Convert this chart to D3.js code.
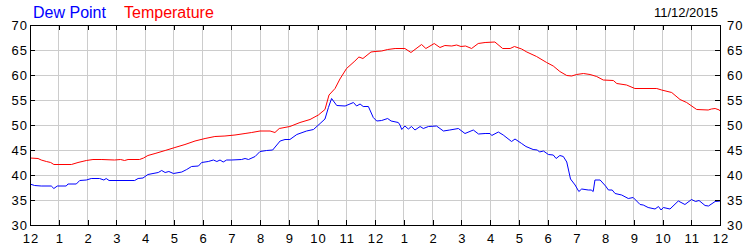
<!DOCTYPE html>
<html>
<head>
<meta charset="utf-8">
<script src="https://cdn.jsdelivr.net/npm/d3@7"></script>
<style>
    body { margin: 0; background: #fff; }
    svg { display: block; font-family: "Liberation Sans", Arial, sans-serif; }
</style>
</head>
<body>
<svg id="chart" width="750" height="250"></svg>
<script>
// hour of day (0 = midnight) and reading in degrees F
const temperature = [
    [0, 43.4], [0.28, 43.3], [0.39, 43.0], [0.57, 42.7], [0.72, 42.5], [0.83, 42.1], [1.44, 42.1],
    [1.67, 42.5], [1.96, 42.9], [2.19, 43.1], [2.5, 43.1], [2.94, 43.0], [3.15, 43.1], [3.29, 42.9],
    [3.41, 43.1], [3.81, 43.1], [3.95, 43.4], [4.1, 43.9], [4.35, 44.3], [4.7, 44.9], [5.04, 45.5],
    [5.39, 46.1], [5.74, 46.8], [6.09, 47.3], [6.43, 47.7], [6.78, 47.8], [7.13, 48.0], [7.48, 48.3],
    [7.71, 48.5], [8.0, 48.8], [8.35, 48.8], [8.52, 48.5], [8.67, 49.3], [9.04, 49.7], [9.39, 50.5],
    [9.74, 51.1], [10.03, 52.0], [10.26, 53.1], [10.4, 56.0], [10.61, 57.3], [10.78, 59.2], [11.01, 61.3],
    [11.3, 62.8], [11.44, 63.6], [11.58, 63.3], [11.86, 64.6], [12.0, 64.7], [12.23, 64.8], [12.44, 65.1],
    [12.7, 65.3], [13.04, 65.3], [13.25, 64.5], [13.62, 66.1], [13.77, 65.3], [14.06, 66.3], [14.26, 65.5],
    [14.43, 65.9], [14.67, 65.8], [14.84, 66.0], [14.99, 65.7], [15.15, 65.8], [15.36, 65.3], [15.59, 66.3],
    [15.83, 66.5], [16.17, 66.6], [16.44, 65.3], [16.7, 65.3], [16.85, 65.7], [17.1, 65.2], [17.28, 64.6],
    [17.62, 63.7], [17.97, 62.5], [18.2, 61.8], [18.43, 60.7], [18.67, 59.9], [18.84, 59.8], [19.01, 60.1],
    [19.25, 60.3], [19.48, 60.1], [19.71, 59.7], [19.94, 59.0], [20.29, 58.9], [20.41, 58.3], [20.75, 58.0],
    [21.04, 57.3], [21.8, 57.3], [21.97, 57.0], [22.32, 56.5], [22.61, 55.1], [22.84, 54.5], [23.19, 53.1],
    [23.59, 53.0], [23.7, 53.2], [23.83, 53.3], [23.98, 53.0], [24, 52.8]
];

const dewPoint = [
    [0, 38.2], [0.16, 37.9], [0.39, 37.8], [0.74, 37.8], [0.83, 37.3], [0.95, 37.8], [1.26, 37.8],
    [1.32, 38.2], [1.61, 38.2], [1.73, 38.9], [1.96, 39.0], [2.13, 39.3], [2.42, 39.3], [2.57, 39.0],
    [2.65, 39.3], [2.75, 38.9], [3.64, 38.9], [3.76, 39.3], [3.93, 39.4], [4.1, 40.1], [4.46, 40.5],
    [4.58, 40.9], [4.7, 40.5], [4.83, 40.7], [4.99, 40.3], [5.28, 40.6], [5.45, 41.1], [5.62, 41.7],
    [5.86, 41.8], [5.97, 42.5], [6.2, 42.7], [6.38, 43.0], [6.5, 42.7], [6.61, 43.0], [6.72, 42.6],
    [6.84, 43.0], [7.01, 43.0], [7.36, 43.1], [7.48, 43.3], [7.6, 43.1], [7.83, 43.7], [8.0, 44.7],
    [8.23, 44.9], [8.44, 45.0], [8.7, 46.8], [8.87, 47.1], [9.04, 47.1], [9.28, 48.1], [9.62, 48.8],
    [9.86, 49.1], [10.09, 50.3], [10.26, 51.2], [10.38, 53.5], [10.49, 55.3], [10.67, 53.9], [10.96, 53.8],
    [11.25, 54.5], [11.36, 53.8], [11.48, 54.2], [11.59, 53.7], [11.77, 53.7], [11.94, 51.5], [12.06, 50.8],
    [12.23, 50.9], [12.44, 51.3], [12.56, 50.8], [12.81, 50.5], [12.87, 50.0], [12.93, 49.1], [13.04, 49.8],
    [13.16, 49.2], [13.27, 49.7], [13.39, 49.0], [13.57, 49.7], [13.68, 49.3], [13.86, 49.7], [14.14, 49.8],
    [14.38, 48.8], [14.6, 49.0], [14.9, 49.3], [15.13, 48.3], [15.42, 49.0], [15.6, 48.2], [15.83, 48.3],
    [16.0, 48.3], [16.06, 47.9], [16.29, 48.6], [16.46, 48.0], [16.75, 46.7], [16.87, 47.2], [17.1, 46.3],
    [17.25, 45.7], [17.5, 45.1], [17.65, 45.0], [17.72, 44.6], [17.86, 44.8], [18.03, 44.1], [18.2, 44.0],
    [18.3, 43.3], [18.43, 43.9], [18.55, 43.7], [18.67, 42.6], [18.8, 39.2], [18.96, 38.0], [19.09, 36.7],
    [19.19, 37.2], [19.42, 37.0], [19.52, 37.0], [19.59, 36.7], [19.65, 39.0], [19.83, 39.0], [20.02, 37.8],
    [20.12, 37.0], [20.25, 37.0], [20.35, 36.3], [20.58, 36.0], [20.81, 35.3], [20.98, 35.5], [21.1, 34.8],
    [21.22, 34.1], [21.33, 34.0], [21.5, 33.5], [21.74, 33.2], [21.86, 33.7], [21.95, 33.0], [22.03, 33.5],
    [22.26, 33.2], [22.55, 34.8], [22.78, 34.1], [23.01, 35.1], [23.15, 34.7], [23.27, 34.9], [23.48, 33.9],
    [23.6, 33.8], [23.83, 34.7], [24, 34.8]
];

const hourLabels = ['12', '1', '2', '3', '4', '5', '6', '7', '8', '9', '10', '11',
    '12', '1', '2', '3', '4', '5', '6', '7', '8', '9', '10', '11', '12'];
const yTicks = [30, 35, 40, 45, 50, 55, 60, 65, 70];
const dateLabel = '11/12/2015';

const svg = d3.select('#chart');
const plot = {left: 30, right: 720, top: 25, bottom: 225};

const x = d3.scaleLinear().domain([0, 24]).range([plot.left, plot.right]);
const y = d3.scaleLinear().domain([30, 70]).range([plot.bottom, plot.top]);
const hours = d3.range(hourLabels.length);

// grid
const grid = svg.append('g').attr('stroke', '#cccccc').attr('shape-rendering', 'crispEdges');
grid.selectAll('.vgrid').data(hours.slice(1, -1)).join('line')
    .attr('x1', (d) => x(d)).attr('x2', (d) => x(d))
    .attr('y1', plot.top).attr('y2', plot.bottom);
grid.selectAll('.hgrid').data(yTicks.slice(1, -1)).join('line')
    .attr('x1', plot.left).attr('x2', plot.right)
    .attr('y1', (d) => y(d)).attr('y2', (d) => y(d));

// series
const line = d3.line().x((d) => x(d[0])).y((d) => y(d[1]));
svg.append('path').datum(temperature)
    .attr('fill', 'none').attr('stroke', '#ff0000').attr('stroke-width', 1).attr('d', line);
svg.append('path').datum(dewPoint)
    .attr('fill', 'none').attr('stroke', '#0000ff').attr('stroke-width', 1).attr('d', line);

// frame
svg.append('rect')
    .attr('x', plot.left).attr('y', plot.top)
    .attr('width', plot.right - plot.left).attr('height', plot.bottom - plot.top)
    .attr('fill', 'none').attr('stroke', '#000').attr('shape-rendering', 'crispEdges');

// small inward ticks on all four sides
const tickAxis = (axis, tx, ty) => {
    const g = svg.append('g')
        .attr('transform', `translate(${tx},${ty})`)
        .attr('shape-rendering', 'crispEdges')
        .call(axis);
    g.select('.domain').remove();
    g.selectAll('text').remove();
    g.selectAll('line').attr('stroke', '#000');
};
tickAxis(d3.axisBottom(x).tickValues(hours).tickSize(5), 0, plot.top);
tickAxis(d3.axisTop(x).tickValues(hours).tickSize(5), 0, plot.bottom);
tickAxis(d3.axisRight(y).tickValues(yTicks).tickSize(5), plot.left, 0);
tickAxis(d3.axisLeft(y).tickValues(yTicks).tickSize(5), plot.right, 0);

// labels (slightly spread digits, like the original's GDI text)
const labelAxis = (axis, tx, ty) => {
    const g = svg.append('g')
        .attr('transform', `translate(${tx},${ty})`)
        .call(axis);
    g.select('.domain').remove();
    g.selectAll('line').remove();
    g.selectAll('text')
        .attr('fill', '#000')
        .style('font-size', '13px')
        .style('letter-spacing', '1px')
        .style('font-family', '"Liberation Sans", Arial, sans-serif');
    return g;
};
labelAxis(d3.axisBottom(x).tickValues(hours).tickFormat((i) => hourLabels[i]).tickSize(0).tickPadding(9), 0.5, plot.bottom);
labelAxis(d3.axisLeft(y).tickValues(yTicks).tickSize(0).tickPadding(2), plot.left, 0);
labelAxis(d3.axisRight(y).tickValues(yTicks).tickSize(0).tickPadding(7), plot.right, 0);

// legend and date
svg.append('text').attr('x', 33).attr('y', 18)
    .attr('fill', '#0000ff').style('font-size', '16px').text('Dew Point');
svg.append('text').attr('x', 124).attr('y', 18)
    .attr('fill', '#ff0000').style('font-size', '16px').text('Temperature');
svg.append('text').attr('x', 718).attr('y', 17)
    .attr('text-anchor', 'end').attr('fill', '#000').style('font-size', '13px').text(dateLabel);
</script>
</body>
</html>
